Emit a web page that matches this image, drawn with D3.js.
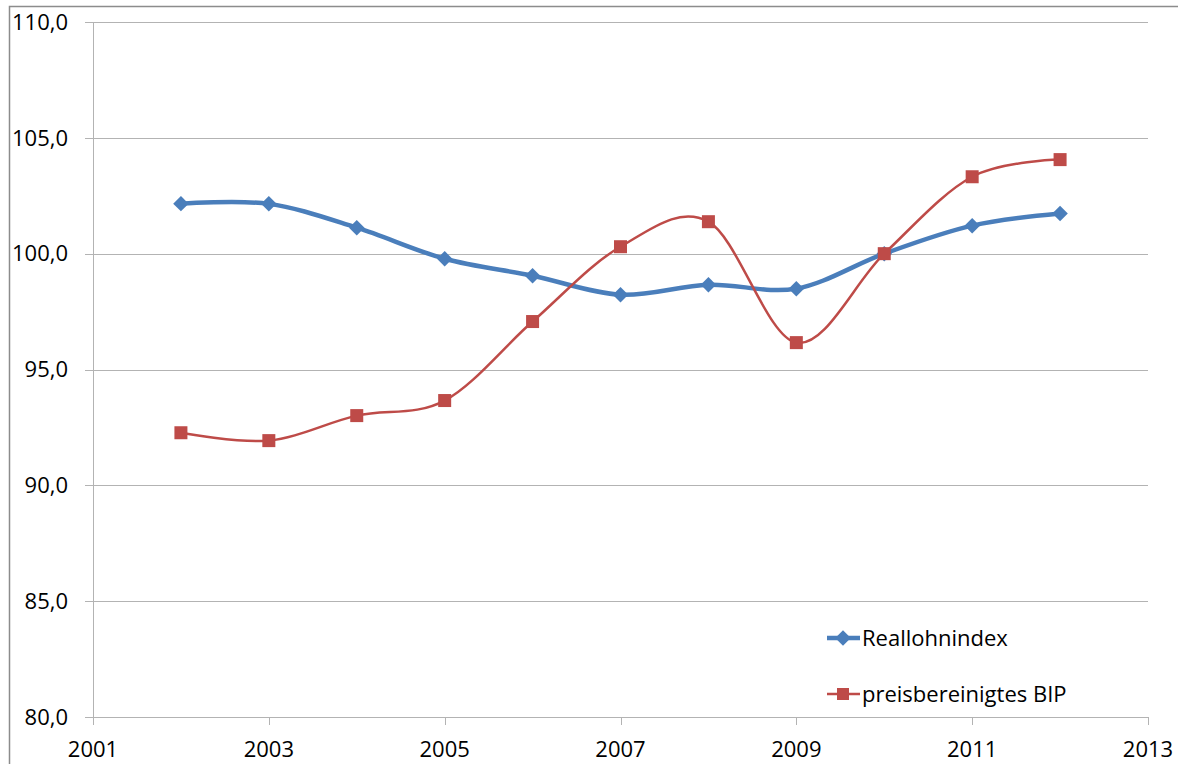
<!DOCTYPE html>
<html>
<head>
<meta charset="utf-8">
<script src="https://cdn.jsdelivr.net/npm/d3@7"></script>
<style>
  body { margin: 0; background: #fff; }
  text { font-family: "Open Sans", "Noto Sans", sans-serif; fill: #000; }
</style>
</head>
<body>
<script>
// Data
var years = [2002, 2003, 2004, 2005, 2006, 2007, 2008, 2009, 2010, 2011, 2012];
var reallohn = [102.16, 102.15, 101.12, 99.78, 99.05, 98.23, 98.66, 98.49, 100.0, 101.21, 101.73];
var bip = [92.27, 91.93, 93.01, 93.66, 97.07, 100.30, 101.38, 96.16, 100.0, 103.32, 104.06];
var seriesNames = ["Reallohnindex", "preisbereinigtes BIP"];
var xTicks = [2001, 2003, 2005, 2007, 2009, 2011, 2013];
var yTicks = [80, 85, 90, 95, 100, 105, 110];

const width = 1178, height = 764;
const plotLeft = 93, plotRight = 1148, plotTop = 22, plotBottom = 717;
const fontSize = "22px";

let svg = d3.select("body").append("svg")
    .attr("width", width)
    .attr("height", height);

// outer frame of the chart
svg.append("rect")
    .attr("x", 9.5).attr("y", 6.5)
    .attr("width", 1200).attr("height", 800)
    .attr("fill", "none")
    .attr("stroke", "#8c8c8c")
    .attr("stroke-width", 1.5);

let x = d3.scaleLinear().domain([2001, 2013]).range([plotLeft, plotRight]);
let y = d3.scaleLinear().domain([80, 110]).range([plotBottom, plotTop]);

// horizontal gridlines
svg.append("g")
    .selectAll("line")
    .data(yTicks)
    .enter()
    .append("line")
    .attr("x1", plotLeft - 8)
    .attr("x2", plotRight)
    .attr("y1", d => Math.round(y(d)) + 0.5)
    .attr("y2", d => Math.round(y(d)) + 0.5)
    .attr("stroke", "#b3b3b3")
    .attr("stroke-width", 1);

// y axis line
svg.append("line")
    .attr("x1", plotLeft + 0.5).attr("x2", plotLeft + 0.5)
    .attr("y1", plotTop).attr("y2", plotBottom + 8)
    .attr("stroke", "#b3b3b3");

// x ticks
svg.append("g")
    .selectAll("line")
    .data(xTicks)
    .enter()
    .append("line")
    .attr("x1", d => Math.round(x(d)) + 0.5)
    .attr("x2", d => Math.round(x(d)) + 0.5)
    .attr("y1", plotBottom)
    .attr("y2", plotBottom + 8)
    .attr("stroke", "#b3b3b3");

// y labels
svg.append("g")
    .selectAll("text")
    .data(yTicks)
    .enter()
    .append("text")
    .attr("x", 68)
    .attr("y", d => y(d))
    .attr("dy", "0.35em")
    .attr("text-anchor", "end")
    .style("font-size", fontSize)
    .text(d => d3.format(".1f")(d).replace(".", ","));

// x labels
svg.append("g")
    .selectAll("text")
    .data(xTicks)
    .enter()
    .append("text")
    .attr("x", d => x(d))
    .attr("y", 749)
    .attr("dy", "0.35em")
    .attr("text-anchor", "middle")
    .style("font-size", fontSize)
    .text(d => d);

let line = d3.line()
    .x(d => x(d[0]))
    .y(d => y(d[1]))
    .curve(d3.curveCardinal.tension(0));

let blue = "#4a7ebb", red = "#be4b48";

let blueData = years.map((yr, i) => [yr, reallohn[i]]);
let redData = years.map((yr, i) => [yr, bip[i]]);

svg.append("path")
    .datum(blueData)
    .attr("d", line)
    .attr("fill", "none")
    .attr("stroke", blue)
    .attr("stroke-width", 4.5);

svg.append("path")
    .datum(redData)
    .attr("d", line)
    .attr("fill", "none")
    .attr("stroke", red)
    .attr("stroke-width", 2.5);

let diamond = d3.symbol().type(d3.symbolSquare).size(120);

svg.append("g")
    .selectAll("path")
    .data(blueData)
    .enter()
    .append("path")
    .attr("d", diamond)
    .attr("transform", d => `translate(${x(d[0])},${y(d[1])}) rotate(45)`)
    .attr("fill", blue);

svg.append("g")
    .selectAll("rect")
    .data(redData)
    .enter()
    .append("rect")
    .attr("x", d => x(d[0]) - 6.5)
    .attr("y", d => y(d[1]) - 6.5)
    .attr("width", 13)
    .attr("height", 13)
    .attr("fill", red);

// Legend
let legend = svg.append("g");
let legendRows = [
    { name: seriesNames[0], color: blue, w: 4.5, marker: "diamond", cy: 638 },
    { name: seriesNames[1], color: red, w: 2.5, marker: "square", cy: 694 }
];

legendRows.forEach(r => {
    legend.append("line")
        .attr("x1", 827).attr("x2", 860)
        .attr("y1", r.cy).attr("y2", r.cy)
        .attr("stroke", r.color)
        .attr("stroke-width", r.w);
    if (r.marker === "diamond") {
        legend.append("path")
            .attr("d", diamond)
            .attr("transform", `translate(843,${r.cy}) rotate(45)`)
            .attr("fill", r.color);
    } else {
        legend.append("rect")
            .attr("x", 837).attr("y", r.cy - 6)
            .attr("width", 12).attr("height", 12)
            .attr("fill", r.color);
    }
    legend.append("text")
        .attr("x", 862)
        .attr("y", r.cy)
        .attr("dy", "0.35em")
        .style("font-size", fontSize)
        .text(r.name);
});
</script>
</body>
</html>
